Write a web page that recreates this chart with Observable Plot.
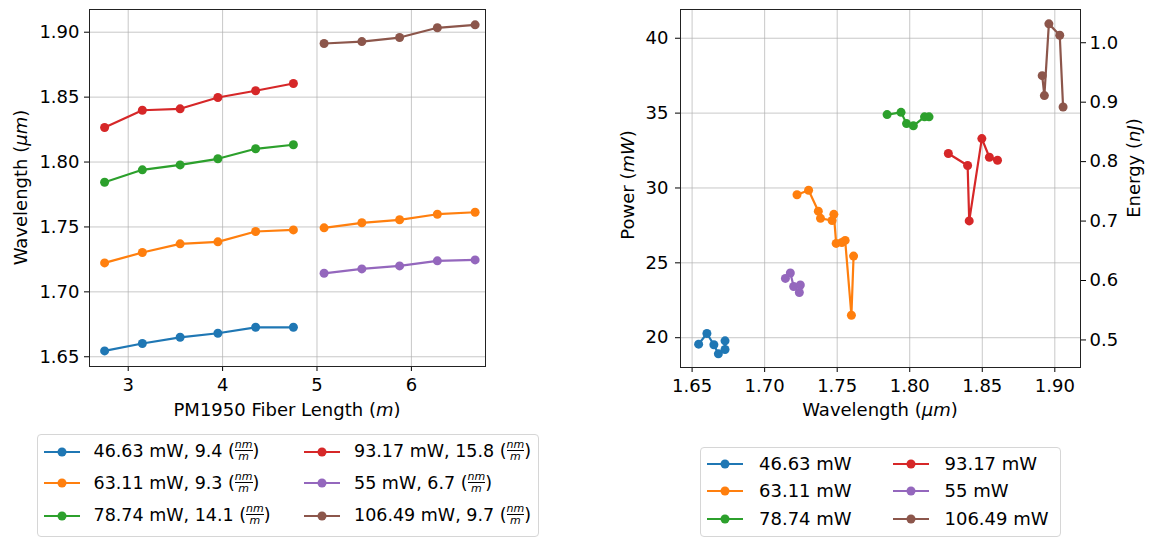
<!DOCTYPE html>
<html>
<head>
<meta charset="utf-8">
<script src="https://cdn.jsdelivr.net/npm/d3@7"></script>
<script src="https://cdn.jsdelivr.net/npm/@observablehq/plot@0.6"></script>
<style>
  html, body { margin: 0; padding: 0; background: #fff; }
  #wrap { position: relative; width: 1150px; height: 540px; overflow: hidden; background: #fff;
          font-family: "DejaVu Sans", sans-serif; color: #000; }
  .chart { position: absolute; top: 0; }
  .legend { position: absolute; border: 1px solid #d6d6d6; border-radius: 4px; background: #fff; box-sizing: border-box; }
  .entry { position: absolute; height: 30px; display: flex; align-items: center; font-size: 18px; white-space: nowrap; }
  .entry svg { display: block; }
  .fr { display: inline-flex; flex-direction: column; align-items: center; font-style: italic; font-size: 11px;
        line-height: 1.0; vertical-align: middle; margin: 0; position: relative; top: -1px; }
  .fr .num { border-bottom: 1px solid #000; padding: 0; }
</style>
</head>
<body>
<div id="wrap">
  <div id="left" class="chart" style="left:0px"></div>
  <div id="right" class="chart" style="left:560px"></div>
  <div id="legL" class="legend" style="left:37px; top:434px; width:502px; height:103px;"></div>
  <div id="legR" class="legend" style="left:700px; top:447px; width:361px; height:90px;"></div>
</div>
<script>
// ---------------- data ----------------
const seriesNames = ["46.63 mW", "63.11 mW", "78.74 mW", "93.17 mW", "55 mW", "106.49 mW"];
const seriesColors = ["#1f77b4", "#ff7f0e", "#2ca02c", "#d62728", "#9467bd", "#8c564b"];
const dispersion = [9.4, 9.3, 14.1, 15.8, 6.7, 9.7];

const lenShort = [2.75, 3.15, 3.55, 3.95, 4.35, 4.75];
const lenLong = [5.075, 5.475, 5.875, 6.275, 6.675];

const wl46 = [1.6545, 1.6602, 1.6650, 1.6681, 1.6727, 1.6727];
const pw46 = [19.57, 20.28, 19.53, 18.92, 19.21, 19.79];
const wl63 = [1.7223, 1.7303, 1.7370, 1.7385, 1.7465, 1.7477, 1.7493, 1.7532, 1.7555, 1.7598, 1.7613];
const pw63 = [29.55, 29.85, 28.45, 27.97, 27.83, 28.24, 26.30, 26.36, 26.50, 21.50, 25.45];
const wl79 = [1.7844, 1.7940, 1.7978, 1.8025, 1.8102, 1.8133];
const pw79 = [34.90, 35.05, 34.30, 34.15, 34.75, 34.75];
const wl93 = [1.8266, 1.8399, 1.8410, 1.8497, 1.8549, 1.8605];
const pw93 = [32.30, 31.50, 27.80, 33.30, 32.05, 31.85];
const wl55 = [1.7143, 1.7177, 1.7200, 1.7239, 1.7246];
const pw55 = [23.96, 24.32, 23.42, 23.02, 23.52];
const wl106 = [1.8913, 1.8928, 1.8959, 1.9034, 1.9057];
const pw106 = [37.50, 36.17, 40.96, 40.20, 35.41];

const lengthTicks = [3, 4, 5, 6];
const wlTicks = [1.65, 1.70, 1.75, 1.80, 1.85, 1.90];
const powerTicks = [20, 25, 30, 35, 40];
const energyTicks = [0.5, 0.6, 0.7, 0.8, 0.9, 1.0];
const energyPerPower = 1 / 39.7; // nJ per mW (repetition rate ~39.7 MHz)

// ---------------- build tables ----------------
const seriesData = [
  {lens: lenShort, wl: wl46, pw: pw46},
  {lens: lenShort.concat(lenLong), wl: wl63, pw: pw63},
  {lens: lenShort, wl: wl79, pw: pw79},
  {lens: lenShort, wl: wl93, pw: pw93},
  {lens: lenLong, wl: wl55, pw: pw55},
  {lens: lenLong, wl: wl106, pw: pw106}
];
const rows = [];
seriesData.forEach((s, i) => {
  s.wl.forEach((w, j) => {
    const len = s.lens[j];
    rows.push({series: seriesNames[i], len, wl: w, pw: s.pw[j],
               seg: seriesNames[i] + (len > 5 ? "-b" : "-a"), order: j});
  });
});

const FONT = "DejaVu Sans, sans-serif";
const gridStyle = {stroke: "#b0b0b0", strokeOpacity: 0.7, strokeWidth: 1};
const colorScale = {domain: seriesNames, range: seriesColors};

function addLabel(svg, x, y, parts, rotate) {
  const t = d3.select(svg).append("text")
    .attr("transform", `translate(${x},${y})` + (rotate ? " rotate(-90)" : ""))
    .attr("text-anchor", "middle").attr("font-size", 18).attr("fill", "#000")
    .attr("font-family", FONT);
  parts.forEach(([s, it]) => { const sp = t.append("tspan").text(s); if (it) sp.attr("font-style", "italic"); });
}

// ---------------- left chart ----------------
const left = Plot.plot({
  width: 540, height: 430,
  marginLeft: 89, marginRight: 55, marginTop: 9, marginBottom: 64,
  style: {fontFamily: FONT, fontSize: "18px", color: "#000", background: "transparent", overflow: "visible"},
  x: {domain: [2.59, 6.785]},
  y: {domain: [1.6425, 1.9175]},
  color: colorScale,
  marks: [
    Plot.gridX(lengthTicks, gridStyle),
    Plot.gridY(wlTicks, gridStyle),
    Plot.line(rows, {x: "len", y: "wl", z: "seg", stroke: "series", strokeWidth: 2.2}),
    Plot.dot(rows, {x: "len", y: "wl", fill: "series", r: 4.5}),
    Plot.axisX(lengthTicks, {tickSize: 5, tickPadding: 7, label: null, tickFormat: d => String(d)}),
    Plot.axisY(wlTicks, {tickSize: 5, tickPadding: 5, label: null, tickFormat: d3.format(".2f")}),
    Plot.frame({stroke: "#222", strokeWidth: 1})
  ]
});
addLabel(left, 27, 187.5, [["Wavelength ("], ["μm", true], [")"]], true);
addLabel(left, 287, 416, [["PM1950 Fiber Length ("], ["m", true], [")"]], false);
document.getElementById("left").appendChild(left);

// ---------------- right chart ----------------
const right = Plot.plot({
  width: 590, height: 430,
  marginLeft: 120, marginRight: 70, marginTop: 9, marginBottom: 63,
  style: {fontFamily: FONT, fontSize: "18px", color: "#000", background: "transparent", overflow: "visible"},
  x: {domain: [1.642, 1.9177]},
  y: {domain: [18.01, 41.92]},
  color: colorScale,
  marks: [
    Plot.gridX(wlTicks, gridStyle),
    Plot.gridY(powerTicks, gridStyle),
    Plot.line(rows, {x: "wl", y: "pw", z: "series", stroke: "series", strokeWidth: 2.2}),
    Plot.dot(rows, {x: "wl", y: "pw", fill: "series", r: 4.5}),
    Plot.axisX(wlTicks, {tickSize: 5, tickPadding: 7, label: null, tickFormat: d3.format(".2f")}),
    Plot.axisY(powerTicks, {tickSize: 5, tickPadding: 7, label: null, tickFormat: d3.format("d")}),
    Plot.axisY(energyTicks.map(e => e / energyPerPower), {anchor: "right", tickSize: 5, tickPadding: 4, label: null,
      tickFormat: d => (d * energyPerPower).toFixed(1)}),
    Plot.frame({stroke: "#222", strokeWidth: 1})
  ]
});
addLabel(right, 73.5, 185, [["Power ("], ["mW", true], [")"]], true);
addLabel(right, 580, 168, [["Energy ("], ["nJ", true], [")"]], true);
addLabel(right, 320, 416, [["Wavelength ("], ["μm", true], [")"]], false);
document.getElementById("right").appendChild(right);

// ---------------- legends ----------------
function handle(color) {
  return `<svg width="38" height="14"><line x1="1" y1="7" x2="37" y2="7" stroke="${color}" stroke-width="2.2"/>` +
         `<circle cx="19" cy="7" r="4.5" fill="${color}"/></svg>`;
}
const frac = `(<span class="fr"><span class="num">nm</span><span class="den">m</span></span>)`;
const legL = document.getElementById("legL");
const legR = document.getElementById("legR");
// matplotlib fills columns top-to-bottom
const rowsL = [17.7, 49.3, 81.7];
const rowsR = [16.5, 43.5, 71.5];
seriesNames.forEach((name, i) => {
  const col = Math.floor(i / 3), r = i % 3;
  const eL = document.createElement("div");
  eL.className = "entry";
  eL.style.left = (col === 0 ? 4.5 : 265) + "px";
  eL.style.top = (rowsL[r] - 15 - 1) + "px";
  eL.innerHTML = handle(seriesColors[i]) + `<span style="margin-left:13px; font-size:17.5px">${name}, ${dispersion[i]} ${frac}</span>`;
  legL.appendChild(eL);
  const eR = document.createElement("div");
  eR.className = "entry";
  eR.style.left = (col === 0 ? 5 : 190.5) + "px";
  eR.style.top = (rowsR[r] - 15 - 1) + "px";
  eR.innerHTML = handle(seriesColors[i]) + `<span style="margin-left:15px">${name}</span>`;
  legR.appendChild(eR);
});
</script>
</body>
</html>
